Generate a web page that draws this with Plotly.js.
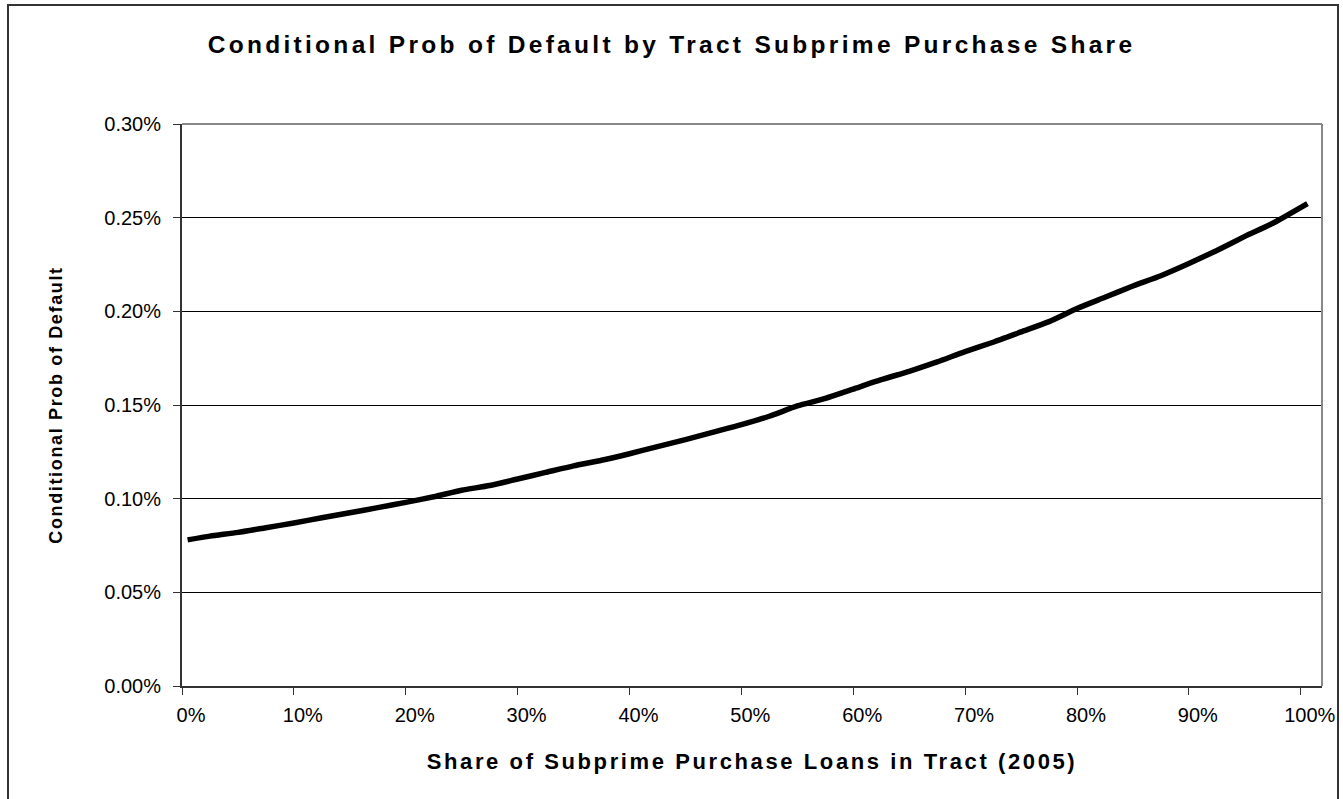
<!DOCTYPE html>
<html>
<head>
<meta charset="utf-8">
<script src="https://cdn.plot.ly/plotly-3.0.1.min.js"></script>
<style>
  html, body { margin: 0; padding: 0; background: #ffffff; }
  #frame { position: absolute; left: 7px; top: 4px; width: 1332px; height: 800px;
           border: 2px solid #333333; border-bottom: none; box-sizing: border-box; }
  #chart { position: absolute; left: 0; top: 0; width: 1343px; height: 799px; }
  /* wide-set lettering for the titles */
  #chart .gtitle { letter-spacing: 3.3px; }
  #chart .xtitle { letter-spacing: 2.6px; }
  #chart .ytitle { letter-spacing: 1.65px; }
</style>
</head>
<body>
<div id="frame"></div>
<div id="chart"></div>
<script>
// Share of subprime purchase loans in the tract (2005)
const subprimeShare = [0.005, 0.025, 0.05, 0.075, 0.10, 0.125, 0.15, 0.175, 0.20, 0.225, 0.25, 0.275,
                       0.30, 0.325, 0.35, 0.375, 0.40, 0.425, 0.45, 0.475, 0.50, 0.525, 0.55, 0.575,
                       0.60, 0.625, 0.65, 0.675, 0.70, 0.725, 0.75, 0.775, 0.80, 0.825, 0.85, 0.875,
                       0.90, 0.925, 0.95, 0.975, 1.006];
// Conditional probability of default at each share
const defaultProb = [0.000780, 0.000800, 0.000820, 0.000845, 0.000870, 0.000898, 0.000925, 0.000952,
                     0.000980, 0.001010, 0.001045, 0.001070, 0.001105, 0.001140, 0.001175, 0.001205,
                     0.001240, 0.001278, 0.001315, 0.001355, 0.001395, 0.001440, 0.001495, 0.001535,
                     0.001585, 0.001635, 0.001680, 0.001730, 0.001785, 0.001835, 0.001890, 0.001945,
                     0.002015, 0.002075, 0.002135, 0.002190, 0.002255, 0.002325, 0.002400, 0.002470,
                     0.002575];

const xTicks = [0, 0.1, 0.2, 0.3, 0.4, 0.5, 0.6, 0.7, 0.8, 0.9, 1.0];
const yTicks = [0, 0.0005, 0.001, 0.0015, 0.002, 0.0025, 0.003];

const font = "Liberation Sans, Arial, sans-serif";

const trace = {
  x: subprimeShare,
  y: defaultProb,
  type: "scatter",
  mode: "lines",
  line: { color: "#000000", width: 5.5, shape: "spline", smoothing: 0.6 },
  hoverinfo: "x+y"
};

const layout = {
  width: 1343,
  height: 799,
  margin: { l: 182, r: 21, t: 124, b: 113 },
  paper_bgcolor: "rgba(0,0,0,0)",
  plot_bgcolor: "#ffffff",
  showlegend: false,
  font: { family: font, color: "#000000" },
  title: {
    text: "<b>Conditional Prob of Default by Tract Subprime Purchase Share</b>",
    font: { family: font, size: 24.5, color: "#000000" },
    x: 0.5, xanchor: "center", y: 0.944, yanchor: "middle"
  },
  xaxis: {
    range: [0, 1.019],
    tickvals: xTicks,
    tickformat: ".0%",
    ticks: "outside", ticklen: 7, tickwidth: 1, tickcolor: "#333333",
    ticklabelshift: 9,
    ticklabelstandoff: 3,
    showgrid: false, zeroline: false,
    showline: true, linecolor: "#333333", linewidth: 2,
    tickfont: { family: font, size: 20, color: "#000000" },
    title: {
      text: "<b>Share of Subprime Purchase Loans in Tract (2005)</b>",
      font: { family: font, size: 22, color: "#000000" },
      standoff: 29
    },
    automargin: false
  },
  yaxis: {
    range: [0, 0.003],
    tickvals: yTicks,
    tickformat: ".2%",
    ticks: "outside", ticklen: 7, tickwidth: 1, tickcolor: "#333333",
    ticklabelstandoff: 8,
    showgrid: true, gridcolor: "#000000", gridwidth: 1,
    zeroline: false,
    showline: true, linecolor: "#333333", linewidth: 2,
    tickfont: { family: font, size: 20, color: "#000000" },
    title: {
      text: "<b>Conditional Prob of Default</b>",
      font: { family: font, size: 18, color: "#000000" },
      standoff: 37
    },
    automargin: false
  },
  shapes: [
    // light frame on the top and right of the plotting area
    { type: "line", xref: "paper", yref: "paper", x0: 0, x1: 1, y0: 1, y1: 1,
      line: { color: "#888888", width: 2 }, layer: "above" },
    { type: "line", xref: "paper", yref: "paper", x0: 1, x1: 1, y0: 0, y1: 1,
      line: { color: "#888888", width: 2 }, layer: "above" }
  ]
};

Plotly.newPlot("chart", [trace], layout, { displayModeBar: false, staticPlot: true });
</script>
</body>
</html>
